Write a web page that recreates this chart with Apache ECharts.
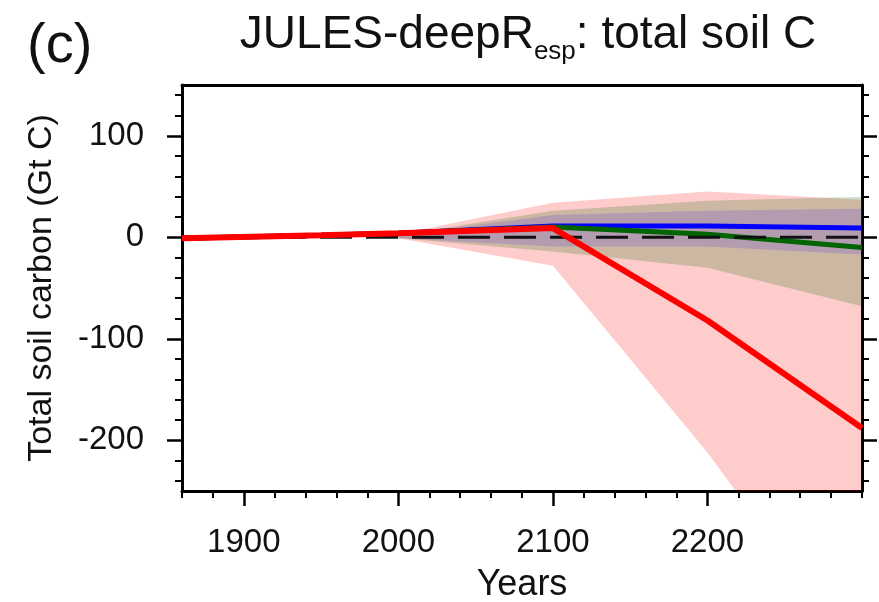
<!DOCTYPE html>
<html>
<head>
<meta charset="utf-8">
<script src="https://cdn.jsdelivr.net/npm/echarts@6/dist/echarts.min.js"></script>
<style>
html,body{margin:0;padding:0;background:#fff;}
#chart{width:879px;height:602px;}
</style>
</head>
<body>
<div id="chart"></div>
<script>
// ---- data ----
const histYears = [1860, 1950, 2000, 2100];
const futYears = [2200, 2300];
const redLine = [-1, 2, 4, 9, -82, -188];
const blueLine = [-1, 2, 4, 11, 11, 9];
const greenLine = [-1, 2, 4, 10, 3, -10];
const zeroYears = [1860, 2300];
const zeroLine = [0, 0];

const bandYears = [2000, 2100, 2200, 2300];
const redUpper = [3, 34, 45, 37];
const redLower = [-1, -28, -212, -420];
const greenUpper = [2, 26, 36, 40];
const greenLower = [-1, -14, -30, -68];
const blueUpper = [2, 22, 26, 28];
const blueLower = [-1, -9, -9, -17];

const xMajorTicks = [1900, 2000, 2100, 2200];
const xMinorTicks = [1860, 1880, 1920, 1940, 1960, 1980, 2020, 2040, 2060, 2080, 2120, 2140, 2160, 2180, 2220, 2240, 2260, 2280, 2300];
const yMajorTicks = [-200, -100, 0, 100];
const yMinorTicks = [-240, -220, -180, -160, -140, -120, -80, -60, -40, -20, 20, 40, 60, 80, 120, 140];

const FONT = 'Liberation Sans';
const lineYears = histYears.concat(futYears);
const pairs = (xs, ys) => xs.map((x, i) => [x, ys[i]]);

function band(name, upper, lower, color) {
  return {
    name: name + '-band', type: 'custom', z: 1, silent: true, clip: true,
    data: bandYears.map((y, i) => [y, lower[i], upper[i]]),
    encode: { x: 0, y: [1, 2] },
    renderItem: function (params, api) {
      if (params.dataIndex !== 0) return null;
      const top = [], bot = [];
      for (let i = 0; i < bandYears.length; i++) {
        top.push(api.coord([bandYears[i], upper[i]]));
        bot.push(api.coord([bandYears[i], lower[i]]));
      }
      const pts = top.concat(bot.reverse());
      const cs = params.coordSys;
      return {
        type: 'polygon',
        shape: { points: pts },
        style: { fill: color },
        clipPath: { type: 'rect', shape: { x: cs.x, y: cs.y, width: cs.width, height: cs.height } }
      };
    }
  };
}

const chart = echarts.init(document.getElementById('chart'), null, { renderer: 'canvas' });
const axisCommon = { type: 'value', min: 1860, max: 2300, splitLine: { show: false } };
const yCommon = { type: 'value', min: -250, max: 150, splitLine: { show: false } };
const plain = v => String(v);

chart.setOption({
  animation: false,
  backgroundColor: '#fff',
  title: [
    { text: '{a|JULES-deepR}{s|esp}{a|: total soil C}', left: 523, top: 7, textAlign: 'center',
      textStyle: { fontWeight: 'normal', rich: {
        a: { fontFamily: FONT, fontSize: 46, fontWeight: 'normal', color: '#111', verticalAlign: 'top', lineHeight: 52 },
        s: { fontFamily: FONT, fontSize: 26, fontWeight: 'normal', color: '#111', verticalAlign: 'top', padding: [27, 0, 0, 0], lineHeight: 29 }
      } } },
    { text: '(c)', left: 22, top: 14, textStyle: { fontFamily: FONT, fontSize: 56, fontWeight: 'normal', color: '#111' } }
  ],
  grid: { left: 182, right: 17, top: 85, bottom: 111, containLabel: false, outerBoundsMode: 'none' },
  xAxis: [
    Object.assign({}, axisCommon, { position: 'bottom',
      axisLine: { show: true, onZero: false, lineStyle: { color: '#000', width: 3 } },
      axisTick: { show: true, inside: false, length: 15, customValues: xMajorTicks, lineStyle: { color: '#000', width: 2.5 } },
      axisLabel: { show: true, customValues: xMajorTicks, formatter: plain, margin: 35, fontFamily: FONT, fontSize: 33, color: '#111' },
      name: 'Years', nameLocation: 'middle', nameGap: 76,
      nameTextStyle: { fontFamily: FONT, fontSize: 36, color: '#111' } }),
    Object.assign({}, axisCommon, { position: 'bottom',
      axisLine: { show: false, onZero: false },
      axisTick: { show: true, inside: false, length: 7, customValues: xMinorTicks, lineStyle: { color: '#000', width: 2 } },
      axisLabel: { show: false } }),
    Object.assign({}, axisCommon, { position: 'top',
      axisLine: { show: true, onZero: false, lineStyle: { color: '#000', width: 3 } },
      axisTick: { show: false }, axisLabel: { show: false } })
  ],
  yAxis: [
    Object.assign({}, yCommon, { position: 'left',
      axisLine: { show: true, onZero: false, lineStyle: { color: '#000', width: 3 } },
      axisTick: { show: true, inside: false, length: 15, customValues: yMajorTicks, lineStyle: { color: '#000', width: 2.5 } },
      axisLabel: { show: true, customValues: yMajorTicks, formatter: plain, margin: 38, fontFamily: FONT, fontSize: 33, color: '#111' },
      name: 'Total soil carbon (Gt C)', nameLocation: 'middle', nameGap: 123, nameRotate: 90,
      nameTextStyle: { fontFamily: FONT, fontSize: 34, color: '#111' } }),
    Object.assign({}, yCommon, { position: 'left',
      axisLine: { show: false, onZero: false },
      axisTick: { show: true, inside: false, length: 7, customValues: yMinorTicks, lineStyle: { color: '#000', width: 2 } },
      axisLabel: { show: false } }),
    Object.assign({}, yCommon, { position: 'right',
      axisLine: { show: true, onZero: false, lineStyle: { color: '#000', width: 3 } },
      axisTick: { show: true, inside: false, length: 15, customValues: yMajorTicks, lineStyle: { color: '#000', width: 2.5 } },
      axisLabel: { show: false } }),
    Object.assign({}, yCommon, { position: 'right',
      axisLine: { show: false, onZero: false },
      axisTick: { show: true, inside: false, length: 7, customValues: yMinorTicks, lineStyle: { color: '#000', width: 2 } },
      axisLabel: { show: false } })
  ],
  series: [
    band('red', redUpper, redLower, 'rgba(255,0,0,0.2)'),
    band('green', greenUpper, greenLower, 'rgba(0,100,0,0.2)'),
    band('blue', blueUpper, blueLower, 'rgba(40,0,255,0.15)'),
    { name: 'blue', type: 'line', data: pairs(lineYears, blueLine), symbol: 'none', z: 3,
      lineStyle: { color: '#0000ff', width: 5 } },
    { name: 'green', type: 'line', data: pairs(lineYears, greenLine), symbol: 'none', z: 3,
      lineStyle: { color: '#006400', width: 5 } },
    { name: 'zero', type: 'line', data: pairs(zeroYears, zeroLine), symbol: 'none', z: 4,
      lineStyle: { color: '#111', width: 3, type: [32, 14] } },
    { name: 'red', type: 'line', data: pairs(lineYears, redLine), symbol: 'none', z: 5,
      lineStyle: { color: '#ff0000', width: 6 } }
  ]
});
</script>
</body>
</html>
